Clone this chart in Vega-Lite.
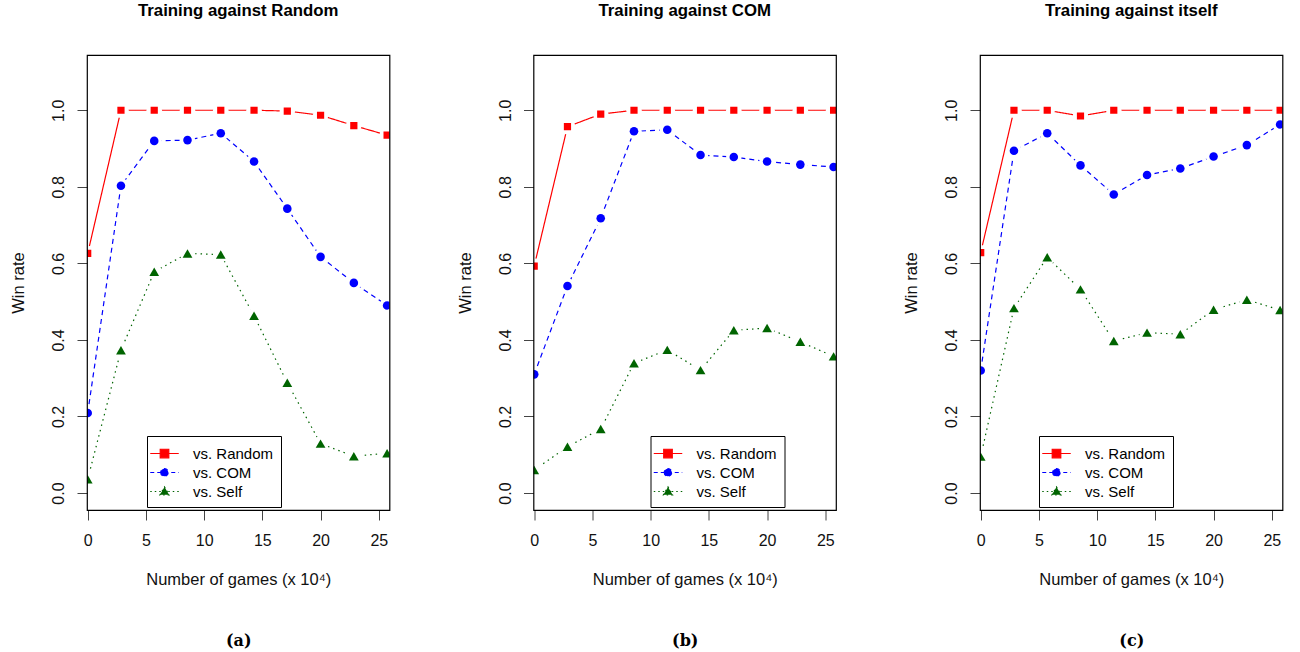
{
  "$schema": "https://vega.github.io/schema/vega-lite/v6.json",
  "background": "white",
  "padding": {"left": 9, "top": 2, "right": 5, "bottom": 2},
  "datasets": {
    "wr": [
      {"panel": "a", "series": "vs. Random", "games": 0, "rate": 0.626},
      {"panel": "a", "series": "vs. Random", "games": 2.857, "rate": 1.0},
      {"panel": "a", "series": "vs. Random", "games": 5.714, "rate": 1.0},
      {"panel": "a", "series": "vs. Random", "games": 8.571, "rate": 1.0},
      {"panel": "a", "series": "vs. Random", "games": 11.429, "rate": 1.0},
      {"panel": "a", "series": "vs. Random", "games": 14.286, "rate": 1.0},
      {"panel": "a", "series": "vs. Random", "games": 17.143, "rate": 0.998},
      {"panel": "a", "series": "vs. Random", "games": 20, "rate": 0.987},
      {"panel": "a", "series": "vs. Random", "games": 22.857, "rate": 0.960},
      {"panel": "a", "series": "vs. Random", "games": 25.714, "rate": 0.935},
      {"panel": "a", "series": "vs. COM", "games": 0, "rate": 0.209},
      {"panel": "a", "series": "vs. COM", "games": 2.857, "rate": 0.803},
      {"panel": "a", "series": "vs. COM", "games": 5.714, "rate": 0.920},
      {"panel": "a", "series": "vs. COM", "games": 8.571, "rate": 0.922},
      {"panel": "a", "series": "vs. COM", "games": 11.429, "rate": 0.940},
      {"panel": "a", "series": "vs. COM", "games": 14.286, "rate": 0.866},
      {"panel": "a", "series": "vs. COM", "games": 17.143, "rate": 0.743},
      {"panel": "a", "series": "vs. COM", "games": 20, "rate": 0.617},
      {"panel": "a", "series": "vs. COM", "games": 22.857, "rate": 0.549},
      {"panel": "a", "series": "vs. COM", "games": 25.714, "rate": 0.490},
      {"panel": "a", "series": "vs. Self", "games": 0, "rate": 0.036},
      {"panel": "a", "series": "vs. Self", "games": 2.857, "rate": 0.373},
      {"panel": "a", "series": "vs. Self", "games": 5.714, "rate": 0.578},
      {"panel": "a", "series": "vs. Self", "games": 8.571, "rate": 0.626},
      {"panel": "a", "series": "vs. Self", "games": 11.429, "rate": 0.623},
      {"panel": "a", "series": "vs. Self", "games": 14.286, "rate": 0.463},
      {"panel": "a", "series": "vs. Self", "games": 17.143, "rate": 0.288},
      {"panel": "a", "series": "vs. Self", "games": 20, "rate": 0.129},
      {"panel": "a", "series": "vs. Self", "games": 22.857, "rate": 0.096},
      {"panel": "a", "series": "vs. Self", "games": 25.714, "rate": 0.104},
      {"panel": "b", "series": "vs. Random", "games": 0, "rate": 0.593},
      {"panel": "b", "series": "vs. Random", "games": 2.857, "rate": 0.957},
      {"panel": "b", "series": "vs. Random", "games": 5.714, "rate": 0.990},
      {"panel": "b", "series": "vs. Random", "games": 8.571, "rate": 1.0},
      {"panel": "b", "series": "vs. Random", "games": 11.429, "rate": 1.0},
      {"panel": "b", "series": "vs. Random", "games": 14.286, "rate": 1.0},
      {"panel": "b", "series": "vs. Random", "games": 17.143, "rate": 1.0},
      {"panel": "b", "series": "vs. Random", "games": 20, "rate": 1.0},
      {"panel": "b", "series": "vs. Random", "games": 22.857, "rate": 1.0},
      {"panel": "b", "series": "vs. Random", "games": 25.714, "rate": 1.0},
      {"panel": "b", "series": "vs. COM", "games": 0, "rate": 0.310},
      {"panel": "b", "series": "vs. COM", "games": 2.857, "rate": 0.541},
      {"panel": "b", "series": "vs. COM", "games": 5.714, "rate": 0.718},
      {"panel": "b", "series": "vs. COM", "games": 8.571, "rate": 0.945},
      {"panel": "b", "series": "vs. COM", "games": 11.429, "rate": 0.949},
      {"panel": "b", "series": "vs. COM", "games": 14.286, "rate": 0.883},
      {"panel": "b", "series": "vs. COM", "games": 17.143, "rate": 0.878},
      {"panel": "b", "series": "vs. COM", "games": 20, "rate": 0.866},
      {"panel": "b", "series": "vs. COM", "games": 22.857, "rate": 0.858},
      {"panel": "b", "series": "vs. COM", "games": 25.714, "rate": 0.852},
      {"panel": "b", "series": "vs. Self", "games": 0, "rate": 0.060},
      {"panel": "b", "series": "vs. Self", "games": 2.857, "rate": 0.121},
      {"panel": "b", "series": "vs. Self", "games": 5.714, "rate": 0.167},
      {"panel": "b", "series": "vs. Self", "games": 8.571, "rate": 0.339},
      {"panel": "b", "series": "vs. Self", "games": 11.429, "rate": 0.374},
      {"panel": "b", "series": "vs. Self", "games": 14.286, "rate": 0.321},
      {"panel": "b", "series": "vs. Self", "games": 17.143, "rate": 0.425},
      {"panel": "b", "series": "vs. Self", "games": 20, "rate": 0.431},
      {"panel": "b", "series": "vs. Self", "games": 22.857, "rate": 0.395},
      {"panel": "b", "series": "vs. Self", "games": 25.714, "rate": 0.357},
      {"panel": "c", "series": "vs. Random", "games": 0, "rate": 0.628},
      {"panel": "c", "series": "vs. Random", "games": 2.857, "rate": 1.0},
      {"panel": "c", "series": "vs. Random", "games": 5.714, "rate": 1.0},
      {"panel": "c", "series": "vs. Random", "games": 8.571, "rate": 0.985},
      {"panel": "c", "series": "vs. Random", "games": 11.429, "rate": 1.0},
      {"panel": "c", "series": "vs. Random", "games": 14.286, "rate": 1.0},
      {"panel": "c", "series": "vs. Random", "games": 17.143, "rate": 1.0},
      {"panel": "c", "series": "vs. Random", "games": 20, "rate": 1.0},
      {"panel": "c", "series": "vs. Random", "games": 22.857, "rate": 1.0},
      {"panel": "c", "series": "vs. Random", "games": 25.714, "rate": 1.0},
      {"panel": "c", "series": "vs. COM", "games": 0, "rate": 0.320},
      {"panel": "c", "series": "vs. COM", "games": 2.857, "rate": 0.894},
      {"panel": "c", "series": "vs. COM", "games": 5.714, "rate": 0.940},
      {"panel": "c", "series": "vs. COM", "games": 8.571, "rate": 0.856},
      {"panel": "c", "series": "vs. COM", "games": 11.429, "rate": 0.780},
      {"panel": "c", "series": "vs. COM", "games": 14.286, "rate": 0.831},
      {"panel": "c", "series": "vs. COM", "games": 17.143, "rate": 0.848},
      {"panel": "c", "series": "vs. COM", "games": 20, "rate": 0.879},
      {"panel": "c", "series": "vs. COM", "games": 22.857, "rate": 0.909},
      {"panel": "c", "series": "vs. COM", "games": 25.714, "rate": 0.963},
      {"panel": "c", "series": "vs. Self", "games": 0, "rate": 0.095},
      {"panel": "c", "series": "vs. Self", "games": 2.857, "rate": 0.483},
      {"panel": "c", "series": "vs. Self", "games": 5.714, "rate": 0.616},
      {"panel": "c", "series": "vs. Self", "games": 8.571, "rate": 0.532},
      {"panel": "c", "series": "vs. Self", "games": 11.429, "rate": 0.397},
      {"panel": "c", "series": "vs. Self", "games": 14.286, "rate": 0.419},
      {"panel": "c", "series": "vs. Self", "games": 17.143, "rate": 0.415},
      {"panel": "c", "series": "vs. Self", "games": 20, "rate": 0.479},
      {"panel": "c", "series": "vs. Self", "games": 22.857, "rate": 0.505},
      {"panel": "c", "series": "vs. Self", "games": 25.714, "rate": 0.478}
    ]
  },
  "bounds": "flush",
  "spacing": 143.5,
  "resolve": {
    "scale": {"fill": "independent", "stroke": "independent", "strokeDash": "independent", "shape": "independent", "size": "independent"},
    "legend": {"fill": "independent", "stroke": "independent", "strokeDash": "independent", "shape": "independent"}
  },
  "hconcat": [
    {
      "width": 302.5,
      "height": 455,
      "data": {"name": "wr"},
      "transform": [{"filter": "datum.panel === 'a'"}],
      "title": {"text": "Training against Random"},
      "encoding": {
        "y": {"field": "rate", "type": "quantitative", "scale": {"domain": [-0.0444, 1.1444], "nice": false, "zero": false}, "axis": {"values": [0, 0.2, 0.4, 0.6, 0.8, 1.0], "format": ".1f", "title": "Win rate"}}
      },
      "resolve": {
        "axis": {"x": "independent"},
        "scale": {"fill": "independent", "stroke": "independent", "strokeDash": "independent", "shape": "independent", "size": "independent"}
      },
      "layer": [
        {
          "mark": {"type": "line", "strokeWidth": 1.2, "clip": true},
          "encoding": {
            "x": {"field": "games", "type": "quantitative", "scale": {"domain": [-0.06, 25.92], "nice": false, "zero": false}, "axis": {"values": [0, 5, 10, 15, 20, 25], "title": "Number of games (x 10⁴)"}},
            "stroke": {"field": "series", "type": "nominal", "scale": {"domain": ["vs. Self", "vs. COM", "vs. Random"], "range": ["#006400", "#0000FF", "#FF0000"]}, "legend": null},
            "strokeDash": {"field": "series", "type": "nominal", "scale": {"domain": ["vs. Self", "vs. COM", "vs. Random"], "range": [[1.5, 4], [5, 4], [1, 0]]}, "legend": null}
          }
        },
        {
          "mark": {"type": "point", "shape": "circle", "filled": true, "fill": "white", "opacity": 1, "size": 240, "strokeWidth": 0, "clip": true},
          "encoding": {
            "x": {"field": "games", "type": "quantitative", "axis": {"orient": "bottom", "title": "(a)", "labels": false, "ticks": false, "domain": false, "titlePadding": 122, "titleFont": "DejaVu Serif", "titleFontWeight": "bold", "titleFontSize": 16, "titleColor": "black"}}
          }
        },
        {
          "mark": {"type": "point", "filled": true, "opacity": 1, "strokeWidth": 0, "clip": true},
          "encoding": {
            "x": {"field": "games", "type": "quantitative", "axis": null},
            "fill": {"field": "series", "type": "nominal", "scale": {"domain": ["vs. Self", "vs. COM", "vs. Random"], "range": ["#006400", "#0000FF", "#FF0000"]}, "legend": null},
            "shape": {"field": "series", "type": "nominal", "scale": {"domain": ["vs. Self", "vs. COM", "vs. Random"], "range": ["triangle-up", "circle", "square"]}, "legend": null},
            "size": {"field": "series", "type": "nominal", "scale": {"domain": ["vs. Self", "vs. COM", "vs. Random"], "range": [95, 52, 81]}, "legend": null}
          }
        },
        {
          "mark": {"type": "point", "filled": true, "opacity": 0, "clip": true},
          "encoding": {
            "x": {"field": "games", "type": "quantitative", "axis": null},
            "shape": {"field": "series", "type": "nominal", "scale": {"domain": ["vs. Random", "vs. COM", "vs. Self"], "range": ["M-1.5,0H1.5M-0.45,-0.45H0.45V0.45H-0.45Z", "M-1.5,0H1.5M-0.4,0A0.4,0.4,0,1,0,0.4,0A0.4,0.4,0,1,0,-0.4,0Z", "M-1.5,0H1.5M0,-0.48L0.48,0.35L-0.48,0.35Z"]}, "legend": {"orient": "none", "legendX": 60, "legendY": 381}},
            "fill": {"field": "series", "type": "nominal", "scale": {"domain": ["vs. Random", "vs. COM", "vs. Self"], "range": ["#FF0000", "#0000FF", "#006400"]}, "legend": {"orient": "none", "legendX": 60, "legendY": 381}},
            "stroke": {"field": "series", "type": "nominal", "scale": {"domain": ["vs. Random", "vs. COM", "vs. Self"], "range": ["#FF0000", "#0000FF", "#006400"]}, "legend": {"orient": "none", "legendX": 60, "legendY": 381}},
            "strokeDash": {"field": "series", "type": "nominal", "scale": {"domain": ["vs. Random", "vs. COM", "vs. Self"], "range": [[1, 0], [4, 3], [1.5, 3]]}, "legend": {"orient": "none", "legendX": 60, "legendY": 381}}
          }
        }
      ]
    },
    {
      "width": 302.5,
      "height": 455,
      "data": {"name": "wr"},
      "transform": [{"filter": "datum.panel === 'b'"}],
      "title": {"text": "Training against COM"},
      "encoding": {
        "y": {"field": "rate", "type": "quantitative", "scale": {"domain": [-0.0444, 1.1444], "nice": false, "zero": false}, "axis": {"values": [0, 0.2, 0.4, 0.6, 0.8, 1.0], "format": ".1f", "title": "Win rate"}}
      },
      "resolve": {
        "axis": {"x": "independent"},
        "scale": {"fill": "independent", "stroke": "independent", "strokeDash": "independent", "shape": "independent", "size": "independent"}
      },
      "layer": [
        {
          "mark": {"type": "line", "strokeWidth": 1.2, "clip": true},
          "encoding": {
            "x": {"field": "games", "type": "quantitative", "scale": {"domain": [-0.06, 25.92], "nice": false, "zero": false}, "axis": {"values": [0, 5, 10, 15, 20, 25], "title": "Number of games (x 10⁴)"}},
            "stroke": {"field": "series", "type": "nominal", "scale": {"domain": ["vs. Self", "vs. COM", "vs. Random"], "range": ["#006400", "#0000FF", "#FF0000"]}, "legend": null},
            "strokeDash": {"field": "series", "type": "nominal", "scale": {"domain": ["vs. Self", "vs. COM", "vs. Random"], "range": [[1.5, 4], [5, 4], [1, 0]]}, "legend": null}
          }
        },
        {
          "mark": {"type": "point", "shape": "circle", "filled": true, "fill": "white", "opacity": 1, "size": 240, "strokeWidth": 0, "clip": true},
          "encoding": {
            "x": {"field": "games", "type": "quantitative", "axis": {"orient": "bottom", "title": "(b)", "labels": false, "ticks": false, "domain": false, "titlePadding": 122, "titleFont": "DejaVu Serif", "titleFontWeight": "bold", "titleFontSize": 16, "titleColor": "black"}}
          }
        },
        {
          "mark": {"type": "point", "filled": true, "opacity": 1, "strokeWidth": 0, "clip": true},
          "encoding": {
            "x": {"field": "games", "type": "quantitative", "axis": null},
            "fill": {"field": "series", "type": "nominal", "scale": {"domain": ["vs. Self", "vs. COM", "vs. Random"], "range": ["#006400", "#0000FF", "#FF0000"]}, "legend": null},
            "shape": {"field": "series", "type": "nominal", "scale": {"domain": ["vs. Self", "vs. COM", "vs. Random"], "range": ["triangle-up", "circle", "square"]}, "legend": null},
            "size": {"field": "series", "type": "nominal", "scale": {"domain": ["vs. Self", "vs. COM", "vs. Random"], "range": [95, 52, 81]}, "legend": null}
          }
        },
        {
          "mark": {"type": "point", "filled": true, "opacity": 0, "clip": true},
          "encoding": {
            "x": {"field": "games", "type": "quantitative", "axis": null},
            "shape": {"field": "series", "type": "nominal", "scale": {"domain": ["vs. Random", "vs. COM", "vs. Self"], "range": ["M-1.5,0H1.5M-0.45,-0.45H0.45V0.45H-0.45Z", "M-1.5,0H1.5M-0.4,0A0.4,0.4,0,1,0,0.4,0A0.4,0.4,0,1,0,-0.4,0Z", "M-1.5,0H1.5M0,-0.48L0.48,0.35L-0.48,0.35Z"]}, "legend": {"orient": "none", "legendX": 117, "legendY": 381}},
            "fill": {"field": "series", "type": "nominal", "scale": {"domain": ["vs. Random", "vs. COM", "vs. Self"], "range": ["#FF0000", "#0000FF", "#006400"]}, "legend": {"orient": "none", "legendX": 117, "legendY": 381}},
            "stroke": {"field": "series", "type": "nominal", "scale": {"domain": ["vs. Random", "vs. COM", "vs. Self"], "range": ["#FF0000", "#0000FF", "#006400"]}, "legend": {"orient": "none", "legendX": 117, "legendY": 381}},
            "strokeDash": {"field": "series", "type": "nominal", "scale": {"domain": ["vs. Random", "vs. COM", "vs. Self"], "range": [[1, 0], [4, 3], [1.5, 3]]}, "legend": {"orient": "none", "legendX": 117, "legendY": 381}}
          }
        }
      ]
    },
    {
      "width": 302.5,
      "height": 455,
      "data": {"name": "wr"},
      "transform": [{"filter": "datum.panel === 'c'"}],
      "title": {"text": "Training against itself"},
      "encoding": {
        "y": {"field": "rate", "type": "quantitative", "scale": {"domain": [-0.0444, 1.1444], "nice": false, "zero": false}, "axis": {"values": [0, 0.2, 0.4, 0.6, 0.8, 1.0], "format": ".1f", "title": "Win rate"}}
      },
      "resolve": {
        "axis": {"x": "independent"},
        "scale": {"fill": "independent", "stroke": "independent", "strokeDash": "independent", "shape": "independent", "size": "independent"}
      },
      "layer": [
        {
          "mark": {"type": "line", "strokeWidth": 1.2, "clip": true},
          "encoding": {
            "x": {"field": "games", "type": "quantitative", "scale": {"domain": [-0.06, 25.92], "nice": false, "zero": false}, "axis": {"values": [0, 5, 10, 15, 20, 25], "title": "Number of games (x 10⁴)"}},
            "stroke": {"field": "series", "type": "nominal", "scale": {"domain": ["vs. Self", "vs. COM", "vs. Random"], "range": ["#006400", "#0000FF", "#FF0000"]}, "legend": null},
            "strokeDash": {"field": "series", "type": "nominal", "scale": {"domain": ["vs. Self", "vs. COM", "vs. Random"], "range": [[1.5, 4], [5, 4], [1, 0]]}, "legend": null}
          }
        },
        {
          "mark": {"type": "point", "shape": "circle", "filled": true, "fill": "white", "opacity": 1, "size": 240, "strokeWidth": 0, "clip": true},
          "encoding": {
            "x": {"field": "games", "type": "quantitative", "axis": {"orient": "bottom", "title": "(c)", "labels": false, "ticks": false, "domain": false, "titlePadding": 122, "titleFont": "DejaVu Serif", "titleFontWeight": "bold", "titleFontSize": 16, "titleColor": "black"}}
          }
        },
        {
          "mark": {"type": "point", "filled": true, "opacity": 1, "strokeWidth": 0, "clip": true},
          "encoding": {
            "x": {"field": "games", "type": "quantitative", "axis": null},
            "fill": {"field": "series", "type": "nominal", "scale": {"domain": ["vs. Self", "vs. COM", "vs. Random"], "range": ["#006400", "#0000FF", "#FF0000"]}, "legend": null},
            "shape": {"field": "series", "type": "nominal", "scale": {"domain": ["vs. Self", "vs. COM", "vs. Random"], "range": ["triangle-up", "circle", "square"]}, "legend": null},
            "size": {"field": "series", "type": "nominal", "scale": {"domain": ["vs. Self", "vs. COM", "vs. Random"], "range": [95, 52, 81]}, "legend": null}
          }
        },
        {
          "mark": {"type": "point", "filled": true, "opacity": 0, "clip": true},
          "encoding": {
            "x": {"field": "games", "type": "quantitative", "axis": null},
            "shape": {"field": "series", "type": "nominal", "scale": {"domain": ["vs. Random", "vs. COM", "vs. Self"], "range": ["M-1.5,0H1.5M-0.45,-0.45H0.45V0.45H-0.45Z", "M-1.5,0H1.5M-0.4,0A0.4,0.4,0,1,0,0.4,0A0.4,0.4,0,1,0,-0.4,0Z", "M-1.5,0H1.5M0,-0.48L0.48,0.35L-0.48,0.35Z"]}, "legend": {"orient": "none", "legendX": 59, "legendY": 381}},
            "fill": {"field": "series", "type": "nominal", "scale": {"domain": ["vs. Random", "vs. COM", "vs. Self"], "range": ["#FF0000", "#0000FF", "#006400"]}, "legend": {"orient": "none", "legendX": 59, "legendY": 381}},
            "stroke": {"field": "series", "type": "nominal", "scale": {"domain": ["vs. Random", "vs. COM", "vs. Self"], "range": ["#FF0000", "#0000FF", "#006400"]}, "legend": {"orient": "none", "legendX": 59, "legendY": 381}},
            "strokeDash": {"field": "series", "type": "nominal", "scale": {"domain": ["vs. Random", "vs. COM", "vs. Self"], "range": [[1, 0], [4, 3], [1.5, 3]]}, "legend": {"orient": "none", "legendX": 59, "legendY": 381}}
          }
        }
      ]
    }
  ],
  "config": {
    "font": "Liberation Sans",
    "view": {"stroke": "black", "strokeWidth": 1.2},
    "style": {"cell": {"strokeForeground": true}},
    "title": {"font": "Liberation Sans", "fontSize": 16.8, "fontWeight": "bold", "color": "black", "anchor": "middle", "frame": "group", "baseline": "alphabetic", "offset": 35},
    "axis": {"domain": false, "grid": false, "tickColor": "#444", "tickSize": 10, "tickWidth": 1, "labelFont": "Liberation Sans", "labelFontSize": 16, "labelColor": "#111", "titleFont": "Liberation Sans", "titleFontSize": 16.5, "titleFontWeight": "normal", "titleColor": "#111"},
    "axisX": {"labelPadding": 12, "titlePadding": 23, "labelFlush": false},
    "axisY": {"labelAngle": 270, "labelAlign": "center", "labelBaseline": "alphabetic", "labelPadding": 13.5, "titlePadding": 24},
    "legend": {"title": null, "padding": 7, "strokeColor": "black", "fillColor": "white", "cornerRadius": 0, "symbolSize": 361, "symbolOpacity": 1, "labelOffset": 18, "labelFontSize": 15, "labelFont": "Liberation Sans", "labelColor": "black", "rowPadding": 0, "symbolStrokeWidth": 1.2}
  }
}
